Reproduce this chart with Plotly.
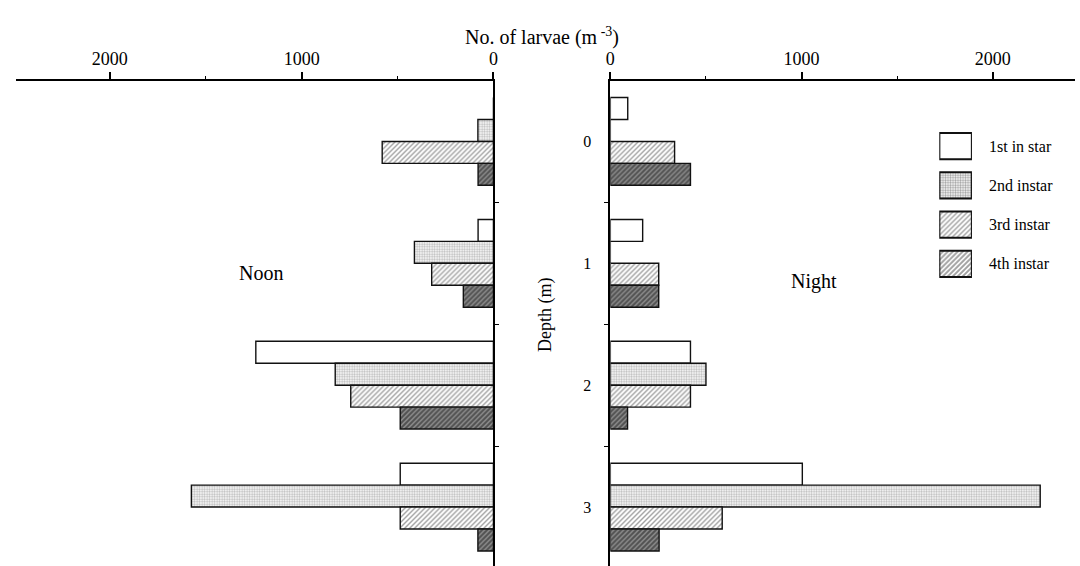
import plotly.graph_objects as go

# ---- data ----
depths = [0, 1, 2, 3]
depth_labels = ["0", "1", "2", "3"]
instars = ["1st in star", "2nd instar", "3rd instar", "4th instar"]

noon_1st = [0, 80, 1239, 486]
noon_2nd = [81, 412, 825, 1575]
noon_3rd = [580, 322, 744, 486]
noon_4th = [80, 157, 486, 81]

night_1st = [91, 169, 419, 1004]
night_2nd = [0, 0, 500, 2248]
night_3rd = [336, 253, 419, 585]
night_4th = [419, 253, 90, 255]

x_ticks = [0, 1000, 2000]
x_minor = [500, 1500]

# ---- styles ----
FONT = "Liberation Serif, Times New Roman, serif"
W, H = 1080, 566
styles = [
    dict(color="white", pattern=dict(shape="")),
    dict(color="white", pattern=dict(shape=".", fgcolor="#777777", bgcolor="white", size=2.5, solidity=0.5)),
    dict(color="white", pattern=dict(shape="/", fgcolor="#444444", bgcolor="white", size=3.5, solidity=0.4)),
    dict(color="white", pattern=dict(shape="/", fgcolor="#151515", bgcolor="#8a8a8a", size=3.5, solidity=0.55)),
]
line = dict(color="#111111", width=1.4)

fig = go.Figure()
noon = [noon_1st, noon_2nd, noon_3rd, noon_4th]
night = [night_1st, night_2nd, night_3rd, night_4th]
for i, name in enumerate(instars):
    fig.add_trace(go.Bar(x=noon[i], y=depths, orientation="h", name=name,
                         xaxis="x", yaxis="y", showlegend=False,
                         marker=dict(**styles[i], line=line)))
for i, name in enumerate(instars):
    fig.add_trace(go.Bar(x=night[i], y=depths, orientation="h", name=name,
                         xaxis="x2", yaxis="y2", showlegend=False,
                         marker=dict(**styles[i], line=line)))

# legend swatches drawn as a tiny bar subplot
legend_pos = [0, 1, 2, 3]
legend_len = [1, 1, 1, 1]
fig.add_trace(go.Bar(x=legend_len, y=legend_pos, orientation="h", width=0.67,
                     xaxis="x3", yaxis="y3", showlegend=False, hoverinfo="skip",
                     marker=dict(
                         color=["white"] * 4,
                         pattern=dict(
                             shape=[s["pattern"]["shape"] for s in styles],
                             fgcolor=[s["pattern"].get("fgcolor", "black") for s in styles],
                             bgcolor=[s["pattern"].get("bgcolor", "white") for s in styles],
                             size=[s["pattern"].get("size", 4) for s in styles],
                             solidity=[s["pattern"].get("solidity", 0.3) for s in styles],
                         ),
                         line=dict(color="#111111", width=2.2))))

top_px = 80.5
ydom = [0, 1 - top_px / H]
yrange = [3.5 - 2 / 122, -0.5]
xtickfont = dict(family=FONT, size=18, color="black")
ytickfont = dict(family=FONT, size=16, color="black")

xcommon = dict(side="top", showline=True, linecolor="black", linewidth=1.6,
               tickvals=x_ticks, ticks="outside", ticklen=7, tickwidth=1.6,
               tickcolor="black", tickfont=xtickfont, showgrid=False, zeroline=False,
               minor=dict(tickvals=x_minor, ticks="outside", ticklen=3, tickwidth=1.4,
                          tickcolor="black", showgrid=False),
               fixedrange=True)

fig.update_layout(
    width=W, height=H,
    margin=dict(l=0, r=0, t=0, b=0),
    paper_bgcolor="white", plot_bgcolor="white",
    barmode="group", bargap=0.28, bargroupgap=0,
    font=dict(family=FONT, color="black"),
    xaxis=dict(domain=[11 / W, 493 / W], range=[2490, 0], anchor="y", **xcommon),
    xaxis2=dict(domain=[611 / W, 1], range=[0, 2430], anchor="y2", **xcommon),
    yaxis=dict(domain=ydom, range=yrange, anchor="x", side="right",
               showline=True, linecolor="black", linewidth=2,
               tickvals=[0.5, 1.5, 2.5], ticks="outside", ticklen=4, tickwidth=1.4,
               tickcolor="black", showticklabels=False, showgrid=False, zeroline=False,
               fixedrange=True),
    yaxis2=dict(domain=ydom, range=yrange, anchor="x2", side="left",
                showline=True, linecolor="black", linewidth=2,
                tickvals=depths, ticktext=depth_labels, ticks="", ticklabelstandoff=14,
                tickfont=ytickfont, showgrid=False, zeroline=False, fixedrange=True,
                minor=dict(tickvals=[0.5, 1.5, 2.5], ticks="outside", ticklen=4,
                           tickwidth=1.4, tickcolor="black", showgrid=False)),
    xaxis3=dict(domain=[943 / W, 976 / W], range=[0, 1], anchor="y3", visible=False,
                fixedrange=True),
    yaxis3=dict(domain=[1 - 283.5 / H, 1 - 126.5 / H], range=[3.5, -0.5], anchor="x3",
                visible=False, fixedrange=True),
    showlegend=False,
)

# texts
fig.add_annotation(x=542 / W, y=1 - 22 / H, xref="paper", yref="paper",
                   text="No. of larvae (m<sup> -3</sup>)", showarrow=False,
                   font=dict(family=FONT, size=20, color="black"))
fig.add_annotation(x=545 / W, y=1 - 315 / H, xref="paper", yref="paper",
                   text="Depth (m)", textangle=-90, showarrow=False,
                   font=dict(family=FONT, size=18, color="black"))
fig.add_annotation(x=234 / W, y=1 - 273 / H, xref="paper", yref="paper",
                   text="Noon", showarrow=False,
                   font=dict(family=FONT, size=20, color="black"))
fig.add_annotation(x=842 / W, y=1 - 281 / H, xref="paper", yref="paper",
                   text="Night", showarrow=False,
                   font=dict(family=FONT, size=20, color="black"))
for i, name in enumerate(instars):
    fig.add_annotation(x=1.0, y=legend_pos[i], xref="x3", yref="y3",
                       text=name, showarrow=False, xanchor="left", xshift=15,
                       font=dict(family=FONT, size=16, color="black"))

fig.write_html("out.html", post_script="document.body.style.margin='0';",
               config={"displayModeBar": False})
